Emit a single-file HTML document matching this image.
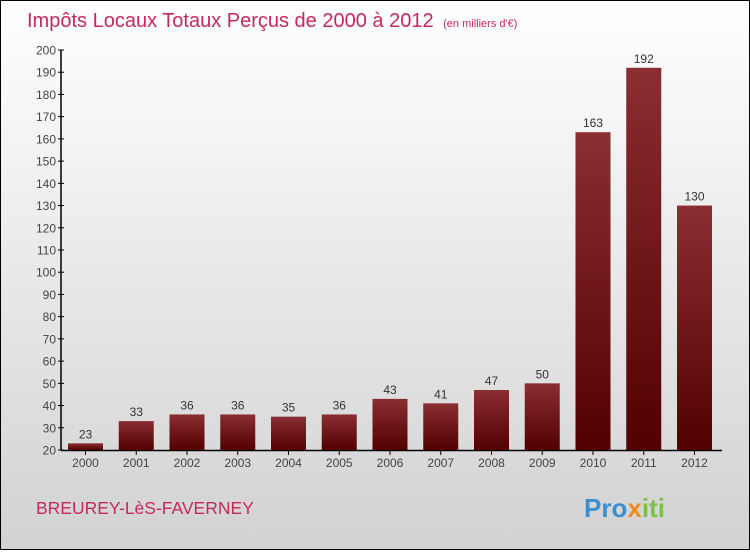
<!DOCTYPE html>
<html><head><meta charset="utf-8"><style>
html,body{margin:0;padding:0}
body{width:750px;height:550px;overflow:hidden;font-family:"Liberation Sans",sans-serif}
#wrap{position:absolute;left:0;top:0;width:748px;height:548px;border:1px solid #000;background:linear-gradient(#ffffff,#d2d2d2)}
</style></head><body>
<div id="wrap">
<svg id="chart" width="748" height="548">
<defs><linearGradient id="bg" x1="0" y1="0" x2="0" y2="1"><stop offset="0" stop-color="#8a2e32"/><stop offset="1" stop-color="#520000"/></linearGradient></defs>
<text x="26" y="26" font-size="20" fill="#c8285a">Impôts Locaux Totaux Perçus de 2000 à 2012 <tspan font-size="11" dx="4">(en milliers d'€)</tspan></text>
<text x="35" y="513" font-size="17.5" fill="#c8285a">BREUREY-LèS-FAVERNEY</text>
<text x="583" y="516" font-size="26" font-weight="bold" fill="#3a8fd0">Pro<tspan fill="#f08a1c">x</tspan><tspan fill="#7cc242">iti</tspan></text>
<g id="axes"></g><g id="bars"></g>
</svg></div>
<script>
const years=["2000","2001","2002","2003","2004","2005","2006","2007","2008","2009","2010","2011","2012"];
const values=[23,33,36,36,35,36,43,41,47,50,163,192,130];
const yTicks=[20,30,40,50,60,70,80,90,100,110,120,130,140,150,160,170,180,190,200];
const NS="http://www.w3.org/2000/svg";
const y=v=>449-(v-20)*400/180;
const x=i=>84.5+i*50.75;
const ax=document.getElementById('axes'),bs=document.getElementById('bars');
function mk(t,a,p){const e=document.createElementNS(NS,t);for(const k in a)e.setAttribute(k,a[k]);p.appendChild(e);return e;}
let l=mk('line',{x1:60,y1:y(200),x2:60,y2:449.5,stroke:'#000','stroke-width':1.5},ax);


l=mk('line',{x1:60,y1:449.5,x2:721,y2:449.5,stroke:'#000','stroke-width':1.5},ax);


yTicks.forEach(v=>{
 mk('line',{x1:57,x2:63,y1:y(v),y2:y(v),stroke:'#000'},ax);
 const t=mk('text',{x:55,y:y(v)+4.5,'text-anchor':'end','font-size':12,fill:'#444'},ax);
 t.textContent=v;
 
 
});
years.forEach((yr,i)=>{
 const v=values[i],cx=x(i);
 const r=mk('rect',{x:cx-17.5,y:y(v),width:35,height:y(20)-y(v),fill:'url(#bg)'},bs);
 
 
 const t=mk('text',{x:cx,y:y(v)-5,'text-anchor':'middle','font-size':12,fill:'#333'},bs);
 t.textContent=v;
 
 
 mk('line',{x1:cx,x2:cx,y1:450,y2:454,stroke:'#000'},ax);
 const xt=mk('text',{x:cx,y:466,'text-anchor':'middle','font-size':12,fill:'#444'},ax);
 xt.textContent=yr;
 
 
});
</script>
</body></html>
